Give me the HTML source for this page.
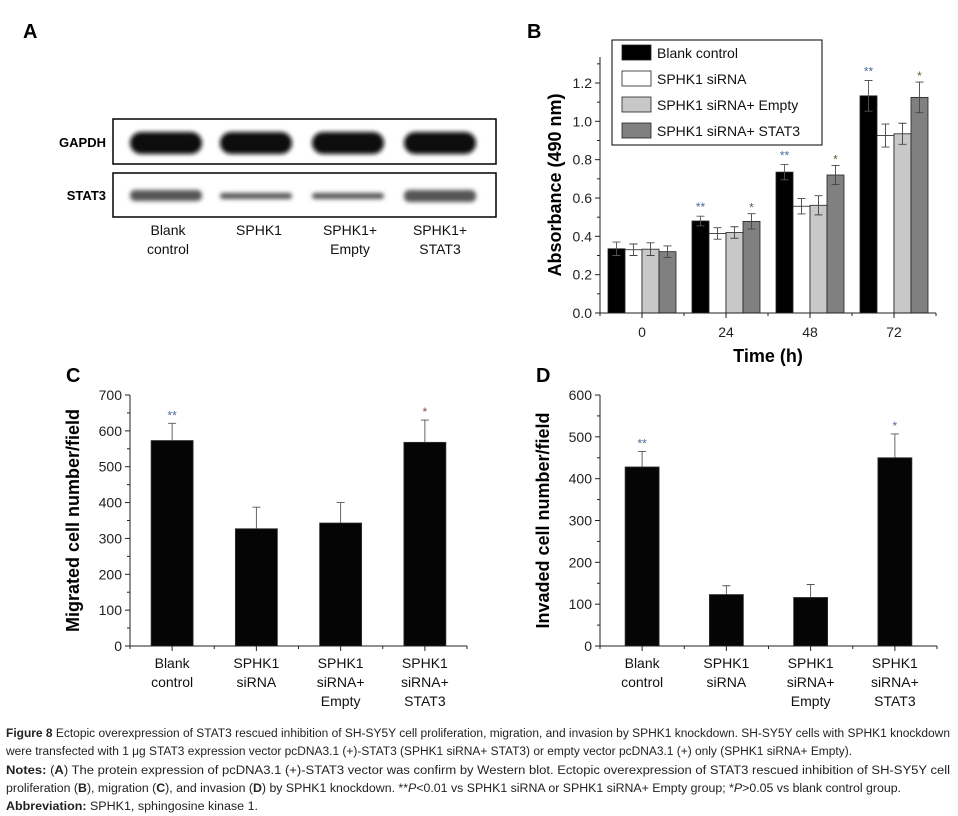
<!DOCTYPE html>
<html><head><meta charset="utf-8"><style>
body{margin:0;background:#fff;}
svg{display:block;font-family:"Liberation Sans",Arial,sans-serif;}
</style></head><body>
<svg width="958" height="816" viewBox="0 0 958 816">
<defs>
<filter id="blur" x="-20%" y="-50%" width="140%" height="200%"><feGaussianBlur stdDeviation="2.2"/></filter>
</defs>
<g id="panelA">
<text x="23" y="38" font-size="20" font-weight="bold">A</text>
<text x="106" y="147" font-size="13" font-weight="bold" text-anchor="end">GAPDH</text>
<text x="106" y="200" font-size="13" font-weight="bold" text-anchor="end">STAT3</text>
<rect x="113" y="119" width="383" height="45" fill="#fff" stroke="#000" stroke-width="1.5"/>
<rect x="113" y="173" width="383" height="44" fill="#fff" stroke="#000" stroke-width="1.5"/>
<g filter="url(#blur)">
<rect x="130" y="132" width="72" height="22" rx="11" fill="#0a0a0a"/>
<rect x="220" y="132" width="72" height="22" rx="11" fill="#0a0a0a"/>
<rect x="312" y="132" width="72" height="22" rx="11" fill="#0a0a0a"/>
<rect x="404" y="132" width="72" height="22" rx="11" fill="#0a0a0a"/>
<rect x="130" y="190" width="72" height="11" rx="5" fill="#555"/>
<rect x="220" y="193" width="72" height="6" rx="3" fill="#555"/>
<rect x="312" y="193" width="72" height="6" rx="3" fill="#555"/>
<rect x="404" y="190" width="72" height="12" rx="5" fill="#555"/>
</g>
<g font-size="14" text-anchor="middle" fill="#111">
<text x="168" y="235">Blank</text><text x="168" y="254">control</text>
<text x="259" y="235">SPHK1</text>
<text x="350" y="235">SPHK1+</text><text x="350" y="254">Empty</text>
<text x="440" y="235">SPHK1+</text><text x="440" y="254">STAT3</text>
</g>
</g>
<g id="panelB"></g>
<g id="panelC"></g>
<g id="panelD"></g>
<g id="caption" font-size="11.5" fill="#222">
<text x="6" y="737" textLength="944" lengthAdjust="spacingAndGlyphs"><tspan font-weight="bold">Figure 8</tspan> Ectopic overexpression of STAT3 rescued inhibition of SH-SY5Y cell proliferation, migration, and invasion by SPHK1 knockdown. SH-SY5Y cells with SPHK1 knockdown</text>
<text x="6" y="755" textLength="846" lengthAdjust="spacingAndGlyphs">were transfected with 1 μg STAT3 expression vector pcDNA3.1 (+)-STAT3 (SPHK1 siRNA+ STAT3) or empty vector pcDNA3.1 (+) only (SPHK1 siRNA+ Empty).</text>
<text x="6" y="774" textLength="944" lengthAdjust="spacingAndGlyphs"><tspan font-weight="bold">Notes:</tspan> (<tspan font-weight="bold">A</tspan>) The protein expression of pcDNA3.1 (+)-STAT3 vector was confirm by Western blot. Ectopic overexpression of STAT3 rescued inhibition of SH-SY5Y cell</text>
<text x="6" y="792" textLength="895" lengthAdjust="spacingAndGlyphs">proliferation (<tspan font-weight="bold">B</tspan>), migration (<tspan font-weight="bold">C</tspan>), and invasion (<tspan font-weight="bold">D</tspan>) by SPHK1 knockdown. **<tspan font-style="italic">P</tspan>&lt;0.01 vs SPHK1 siRNA or SPHK1 siRNA+ Empty group; *<tspan font-style="italic">P</tspan>&gt;0.05 vs blank control group.</text>
<text x="6" y="810" textLength="252" lengthAdjust="spacingAndGlyphs"><tspan font-weight="bold">Abbreviation:</tspan> SPHK1, sphingosine kinase 1.</text>
</g>
</svg>
<script>
const NS='http://www.w3.org/2000/svg';
function mk(parent,tag,attrs,text){const e=document.createElementNS(NS,tag);for(const k in attrs)e.setAttribute(k,attrs[k]);if(text!==undefined)e.textContent=text;parent.appendChild(e);return e;}

// ---- Panel B data ----
const bTimes=['0','24','48','72'];
const bSeriesNames=['Blank control','SPHK1 siRNA','SPHK1 siRNA+ Empty','SPHK1 siRNA+ STAT3'];
const bBlank=[0.335,0.48,0.735,1.133];
const bSiRNA=[0.33,0.415,0.557,0.926];
const bEmpty=[0.333,0.42,0.562,0.935];
const bStat3=[0.32,0.478,0.72,1.125];
const bBlankErr=[0.035,0.025,0.04,0.08];
const bSiRNAErr=[0.03,0.03,0.04,0.06];
const bEmptyErr=[0.033,0.03,0.05,0.055];
const bStat3Err=[0.03,0.04,0.05,0.08];
const bBlankSig=['','**','**','**'];
const bStat3Sig=['','*','*','*'];
const bTicks=[0,0.2,0.4,0.6,0.8,1.0,1.2];

// ---- Panel C data ----
const cCategories=[['Blank','control'],['SPHK1','siRNA'],['SPHK1','siRNA+','Empty'],['SPHK1','siRNA+','STAT3']];
const cValues=[573,327,343,568];
const cErrors=[48,60,57,62];
const cSig=['**','','','*'];
const cTicks=[0,100,200,300,400,500,600,700];

// ---- Panel D data ----
const dCategories=[['Blank','control'],['SPHK1','siRNA'],['SPHK1','siRNA+','Empty'],['SPHK1','siRNA+','STAT3']];
const dValues=[428,123,116,450];
const dErrors=[37,21,31,57];
const dSig=['**','','','*'];
const dTicks=[0,100,200,300,400,500,600];

// Panel B
(function(){
  const g=document.getElementById('panelB');
  const x0=600,x1=936,y0=313,yTop=57;
  const yMax=1.3;
  const yS=v=>y0-v/1.2*(313-83);
  const groupW=(x1-x0)/4;
  const gc=i=>x0+groupW*(i+0.5);
  const bw=17;
  mk(g,'text',{x:527,y:38,'font-size':20,'font-weight':'bold'},'B');
  const series=[[bBlank,bBlankErr,'#000'],[bSiRNA,bSiRNAErr,'#fff'],[bEmpty,bEmptyErr,'#c8c8c8'],[bStat3,bStat3Err,'#808080']];
  series.forEach((s,si)=>{
    s[0].forEach((v,i)=>{
      const x=gc(i)-2*bw+si*bw;
      const r=mk(g,'rect',{x:x,y:yS(v),width:bw,height:y0-yS(v),fill:s[2],stroke:'#222','stroke-width':0.8});
      
      
      const cx=x+bw/2,e=s[1][i];
      const ecol=si===0?'#555':'#444';
      const eb=mk(g,'path',{d:`M${cx},${yS(v+e)}V${yS(v-e)}M${cx-4},${yS(v+e)}h8M${cx-4},${yS(v-e)}h8`,stroke:ecol,'stroke-width':0.9,fill:'none'});
      
      
    });
  });
  bBlankSig.forEach((s,i)=>{if(s){const t=mk(g,'text',{x:gc(i)-1.5*bw,y:yS(bBlank[i]+bBlankErr[i])-5,'font-size':12,'text-anchor':'middle',fill:'#4a6a9a'},s);}});
  bStat3Sig.forEach((s,i)=>{if(s){const t=mk(g,'text',{x:gc(i)+1.5*bw,y:yS(bStat3[i]+bStat3Err[i])-2,'font-size':12,'text-anchor':'middle',fill:'#6a5a3a'},s);}});
  const ax=mk(g,'path',{d:`M${x0},${yTop}V${y0}H${x1}`,stroke:'#222','stroke-width':1,fill:'none'});
  
  
  for(let v=0;v<=1.31;v+=0.1){const y=yS(v);mk(g,'line',{x1:x0-(Math.round(v*10)%2===0?5:3),x2:x0,y1:y,y2:y,stroke:'#222'});}
  bTicks.forEach(v=>{const t=mk(g,'text',{x:x0-8,y:yS(v)+5,'font-size':14,'text-anchor':'end',fill:'#222'},v.toFixed(1));});
  for(let i=0;i<=4;i++){mk(g,'line',{x1:x0+groupW*i,x2:x0+groupW*i,y1:y0,y2:y0+3,stroke:'#222'});}
  bTimes.forEach((s,i)=>{mk(g,'line',{x1:gc(i),x2:gc(i),y1:y0,y2:y0+5,stroke:'#222'});const t=mk(g,'text',{x:gc(i),y:y0+24,'font-size':14,'text-anchor':'middle',fill:'#222'},s);});
  const xt=mk(g,'text',{x:768,y:362,'font-size':18,'font-weight':'bold','text-anchor':'middle'},'Time (h)');
  
  const yt=mk(g,'text',{x:0,y:0,'font-size':18,'font-weight':'bold','text-anchor':'middle',transform:'translate(561,185) rotate(-90)'},'Absorbance (490 nm)');
  
  const lg=mk(g,'g',{});
  
  mk(lg,'rect',{x:612,y:40,width:210,height:105,fill:'#fff',stroke:'#000','stroke-width':1});
  const cols=['#000','#fff','#c8c8c8','#808080'];
  bSeriesNames.forEach((n,i)=>{const y=45+i*26;
    const sw=mk(lg,'rect',{x:622,y:y,width:29,height:15,fill:cols[i],stroke:'#222','stroke-width':0.8});
    
    const t=mk(lg,'text',{x:657,y:y+13,'font-size':14,fill:'#111'},n);
    });
})();

function simpleBar(gid,label,lx,x0,x1,cats,vals,errs,sig,ticks,yMax,bw,title,sigColors){
  const g=document.getElementById(gid);
  const y0=646,yT=395;
  const yS=v=>y0-v/yMax*(y0-yT);
  const step=(x1-x0)/4;
  const cx=i=>x0+step*(i+0.5);
  const pl=mk(g,'text',{x:lx,y:382,'font-size':20,'font-weight':'bold'},label);
  
  vals.forEach((v,i)=>{
    const r=mk(g,'rect',{x:cx(i)-bw/2,y:yS(v),width:bw,height:y0-yS(v),fill:'#050505',stroke:'#333','stroke-width':0.8});
    
    
    const e=mk(g,'path',{d:`M${cx(i)},${yS(v)}V${yS(v+errs[i])}M${cx(i)-4},${yS(v+errs[i])}h8`,stroke:'#555','stroke-width':0.9,fill:'none'});
    
    if(sig[i]){const t=mk(g,'text',{x:cx(i),y:yS(v+errs[i])-4,'font-size':12,'text-anchor':'middle',fill:sigColors[i]},sig[i]);}
    cats[i].forEach((ln,j)=>{const t=mk(g,'text',{x:cx(i),y:y0+22+j*19,'font-size':14,'text-anchor':'middle',fill:'#111'},ln);});
  });
  const ax=mk(g,'path',{d:`M${x0},${yT}V${y0}H${x1}`,stroke:'#222','stroke-width':1,fill:'none'});
  
  for(let v=0;v<=yMax;v+=50){const y=yS(v);mk(g,'line',{x1:x0-(v%100===0?5:3),x2:x0,y1:y,y2:y,stroke:'#222'});}
  ticks.forEach(v=>{const t=mk(g,'text',{x:x0-8,y:yS(v)+5,'font-size':14,'text-anchor':'end',fill:'#222'},String(v));});
  for(let i=0;i<=4;i++)mk(g,'line',{x1:x0+step*i,x2:x0+step*i,y1:y0,y2:y0+3,stroke:'#222'});
  for(let i=0;i<4;i++)mk(g,'line',{x1:cx(i),x2:cx(i),y1:y0,y2:y0+5,stroke:'#222'});
  const yt=mk(g,'text',{x:0,y:0,'font-size':18,'font-weight':'bold','text-anchor':'middle',transform:`translate(${x0-51},${(y0+yT)/2}) rotate(-90)`},title);
  
}
simpleBar('panelC','C',66,130,467,cCategories,cValues,cErrors,cSig,cTicks,700,42,'Migrated cell number/field',['#4a6a9a','','','#7a4a3a']);
simpleBar('panelD','D',536,600,937,dCategories,dValues,dErrors,dSig,dTicks,600,34,'Invaded cell number/field',['#4a6a9a','','','#4a6a9a']);
</script>
</body></html>
